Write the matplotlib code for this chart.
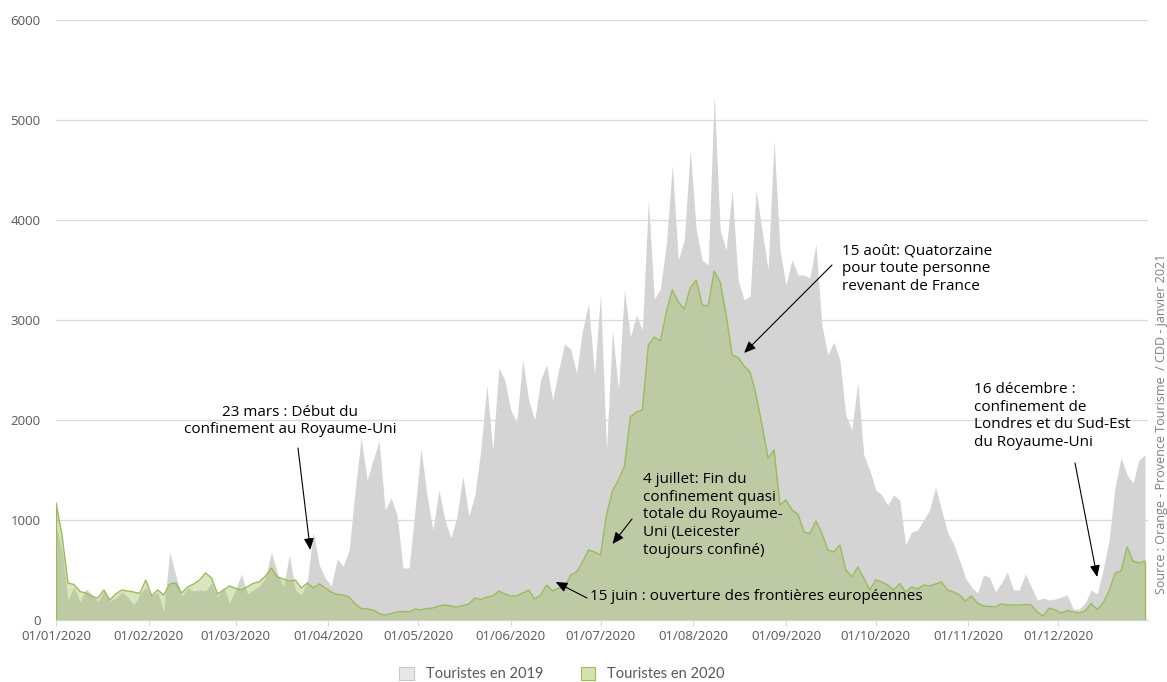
import matplotlib
matplotlib.use("Agg")
import matplotlib.pyplot as plt
import matplotlib.dates as mdates
from matplotlib.patches import Patch
import pandas as pd

# one value every 2 days (01/01/2020 -> 30/12/2020)
dates = pd.date_range("2020-01-01", periods=183, freq="2D")

touristes_2019 = [
    950, 700, 200, 330, 180, 310, 260, 180, 290, 190, 220, 280, 230, 150, 250, 330,      # jan
    240, 280, 80, 680, 450, 240, 320, 290, 300, 290, 370, 230, 330, 170,                 # feb
    300, 460, 260, 300, 340, 420, 680, 470, 330, 650, 300, 250, 390, 880, 550, 420,      # mar
    340, 610, 540, 700, 1300, 1820, 1400, 1600, 1790, 1100, 1220, 1050, 520, 520, 1100,  # apr
    1720, 1250, 900, 1300, 1000, 820, 1030, 1440, 1040, 1250, 1700, 2350, 1700, 2520, 2400,  # may
    2100, 1980, 2600, 2200, 2000, 2400, 2550, 2200, 2500, 2760, 2710, 2470, 2900, 3160, 2450,  # jun
    3260, 1700, 2900, 2300, 3300, 2830, 3050, 2900, 4200, 3210, 3310, 3760, 4550, 3600, 3800, 4700,  # jul
    3900, 3600, 3550, 5250, 3900, 3700, 4300, 3400, 3200, 3240, 4300, 3900, 3500, 4800, 3700,  # aug
    3350, 3600, 3450, 3450, 3420, 3760, 2950, 2650, 2780, 2600, 2050, 1900, 2380, 1650, 1500,  # sep
    1300, 1250, 1150, 1250, 1200, 750, 880, 900, 1000, 1100, 1330, 1100, 880, 760, 600, 420,  # oct
    330, 270, 450, 430, 280, 370, 480, 300, 300, 460, 330, 200, 220, 200, 210,           # nov
    230, 250, 110, 110, 170, 300, 260, 500, 800, 1330, 1620, 1450, 1370, 1600, 1650,     # dec
]

touristes_2020 = [
    1170, 850, 370, 355, 285, 270, 235, 220, 300, 200, 260, 300, 290, 280, 265, 400,     # jan
    240, 300, 250, 360, 370, 270, 330, 360, 400, 470, 420, 260, 300, 340,                # feb
    317, 300, 333, 367, 383, 440, 520, 430, 410, 390, 400, 320, 370, 320, 360, 320,      # mar
    280, 255, 250, 230, 160, 115, 110, 100, 65, 50, 65, 80, 85, 80, 110,                 # apr
    100, 115, 120, 140, 150, 140, 130, 145, 160, 220, 205, 230, 240, 290, 260,           # may
    240, 240, 270, 300, 210, 250, 350, 290, 320, 320, 450, 480, 580, 700, 680,           # jun
    650, 1050, 1290, 1400, 1540, 2030, 2080, 2100, 2750, 2830, 2790, 3080, 3300, 3180, 3110, 3320,  # jul
    3400, 3150, 3140, 3490, 3380, 3050, 2650, 2625, 2540, 2480, 2250, 1950, 1620, 1700, 1150,  # aug
    1200, 1100, 1060, 880, 865, 990, 870, 700, 680, 750, 500, 430, 530, 420, 300,        # sep
    400, 380, 350, 300, 365, 280, 330, 310, 350, 340, 360, 380, 300, 280, 250, 190,      # oct
    240, 170, 140, 135, 130, 160, 150, 150, 150, 155, 150, 80, 40, 120, 100,             # nov
    70, 95, 80, 70, 90, 165, 105, 170, 290, 470, 490, 730, 590, 570, 590,                # dec
]

yticks = [0, 1000, 2000, 3000, 4000, 5000, 6000]
month_ticks = pd.date_range("2020-01-01", "2020-12-01", freq="MS")

# annotations: text, text anchor (px from top-left), arrow start (px), arrow tip (date, value)
notes = [
    ("23 mars : Début du\nconfinement au Royaume-Uni", (290, 421), "center",
     (298, 448), ("2020-03-26", 700)),
    ("4 juillet: Fin du\nconfinement quasi\ntotale du Royaume-\nUni (Leicester\ntoujours confiné)",
     (643, 515), "left", (632, 519), ("2020-07-05", 760)),
    ("15 juin : ouverture des frontières européennes", (590, 596), "left",
     (587, 598), ("2020-06-16", 380)),
    ("15 août: Quatorzaine\npour toute personne\nrevenant de France", (842, 269), "left",
     (832, 265), ("2020-08-18", 2670)),
    ("16 décembre :\nconfinement de\nLondres et du Sud-Est\ndu Royaume-Uni", (974, 416), "left",
     (1075, 463), ("2020-12-14", 430)),
]

W, H = 1167, 682
GREY_TXT = "#595959"
GREEN = "#9bbb59"

fig = plt.figure(figsize=(W / 100, H / 100), dpi=100)
ax = fig.add_axes([56 / W, 1 - 620 / H, (1148 - 56) / W, 600 / H])

ax.fill_between(dates, 0, touristes_2019, color="#d3d4d3", lw=0, zorder=2)
ax.fill_between(dates, 0, touristes_2020, color=GREEN, alpha=0.38, lw=0, zorder=3)
ax.plot(dates, touristes_2020, color=GREEN, lw=1.0, zorder=4)
ax.vlines([dates[0], dates[-1]], 0, [touristes_2020[0], touristes_2020[-1]],
          color=GREEN, lw=1.0, zorder=4)

ax.set_xlim(pd.Timestamp("2020-01-01"), pd.Timestamp("2020-12-31"))
ax.set_ylim(0, 6000)
ax.set_yticks(yticks)
ax.set_xticks(month_ticks)
ax.xaxis.set_major_formatter(mdates.DateFormatter("%d/%m/%Y"))

ax.grid(axis="y", color="#d9d9d9", lw=0.9, zorder=0)
ax.set_axisbelow(True)
for s in ["top", "right", "left"]:
    ax.spines[s].set_visible(False)
ax.spines["bottom"].set_color("#d9d9d9")
ax.tick_params(axis="y", length=0, pad=11, labelsize=9.5, labelcolor=GREY_TXT)
ax.tick_params(axis="x", length=4, color="#d9d9d9", pad=3, labelsize=9.5,
               labelcolor=GREY_TXT)
for lab in ax.get_xticklabels() + ax.get_yticklabels():
    lab.set_family("Open Sans")


def fpos(x, y):
    return (x / W, 1 - y / H)


arrow = dict(arrowstyle="-|>,head_length=0.7,head_width=0.3", color="black",
             lw=0.8, shrinkA=0, shrinkB=0)

for label, tpos, align, start, tip in notes:
    fig.text(*fpos(*tpos), label, ha=align, va="center", fontsize=11,
             family="Open Sans", color="black", linespacing=1.25, zorder=6)
    ax.annotate("", xy=(pd.Timestamp(tip[0]), tip[1]), xytext=fpos(*start),
                textcoords="figure fraction", arrowprops=arrow, zorder=6)

fig.text(1161 / W, 1 - 424 / H, "Source : Orange - Provence Tourisme  / CDD - janvier 2021",
         rotation=90, ha="center", va="center", fontsize=9, color="#7f7f7f",
         family="Open Sans")

handles = [Patch(facecolor="#e7e7e7", edgecolor="#c9c9c9", lw=0.8, label="Touristes en 2019"),
           Patch(facecolor="#d4e2b0", edgecolor=GREEN, lw=0.8, label="Touristes en 2020")]
leg = fig.legend(handles=handles, loc="center", bbox_to_anchor=(562 / W, 1 - 674 / H), ncol=2,
                 frameon=False, handlelength=1.0, handleheight=1.0,
                 columnspacing=2.6, handletextpad=0.8,
                 prop={"family": "Lato", "size": 10.5})
for t in leg.get_texts():
    t.set_color(GREY_TXT)

fig.savefig("out.png", dpi=100)
